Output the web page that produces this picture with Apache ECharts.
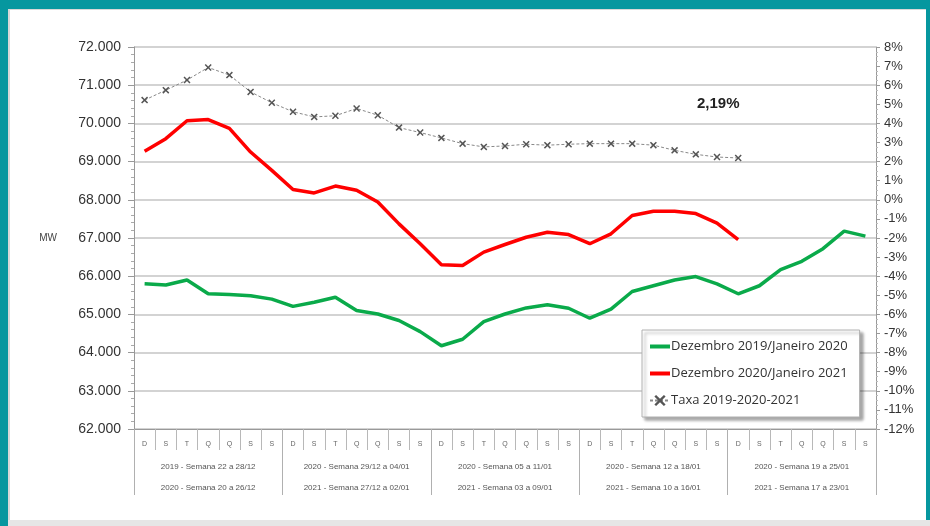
<!DOCTYPE html>
<html>
<head>
<meta charset="utf-8">
<script src="https://cdn.jsdelivr.net/npm/echarts@6/dist/echarts.min.js"></script>
<style>
  html, body { margin: 0; padding: 0; width: 930px; height: 526px; overflow: hidden; background: #06979f; }
  #panel { position: absolute; left: 8px; top: 9px; width: 916px; height: 510px; background: #ffffff; border-left: 2px solid #d8d8d8; border-top: 1px solid #d8d8d8; }
  #bottom { position: absolute; left: 8px; top: 520px; width: 922px; height: 6px; background: #e6e6e6; }
  #chart { position: absolute; left: 0; top: 0; width: 930px; height: 526px; }
</style>
</head>
<body>
<div id="panel"></div>
<div id="bottom"></div>
<div id="chart"></div>
<script>
// ---- data ----
const days = ['D','S','T','Q','Q','S','S','D','S','T','Q','Q','S','S','D','S','T','Q','Q','S','S','D','S','T','Q','Q','S','S','D','S','T','Q','Q','S','S'];
const weeksRow1 = ['2019 - Semana 22 a 28/12', '2020 - Semana 29/12 a 04/01', '2020 - Semana 05 a 11/01', '2020 - Semana 12 a 18/01', '2020 - Semana 19 a 25/01'];
const weeksRow2 = ['2020 - Semana 20 a 26/12', '2021 - Semana 27/12 a 02/01', '2021 - Semana 03 a 09/01', '2021 - Semana 10 a 16/01', '2021 - Semana 17 a 23/01'];
const seriesNames = ['Dezembro 2019/Janeiro 2020', 'Dezembro 2020/Janeiro 2021', 'Taxa 2019-2020-2021'];
const green = [65800,65770,65900,65540,65520,65490,65400,65210,65320,65450,65100,65010,64840,64550,64180,64350,64810,65010,65170,65250,65160,64900,65140,65600,65750,65900,65990,65800,65540,65750,66170,66390,66720,67180,67050];
const red = [69270,69600,70070,70100,69870,69250,68770,68270,68180,68360,68250,67940,67370,66850,66300,66280,66630,66830,67020,67150,67090,66850,67110,67590,67700,67700,67640,67390,66960];
const taxa = [5.22,5.74,6.27,6.93,6.53,5.65,5.08,4.61,4.34,4.40,4.78,4.43,3.78,3.52,3.24,2.94,2.77,2.82,2.91,2.86,2.91,2.94,2.94,2.94,2.86,2.59,2.38,2.24,2.19];
const leftTicks = {min: 62000, max: 72000, interval: 1000};
const rightTicks = {min: -12, max: 8, interval: 1};

const weekLabels = weeksRow1.map((w, i) => w + '\n' + weeksRow2[i]);
const xMark = 'path://M0,1.5L1.5,0L5,3.5L8.5,0L10,1.5L6.5,5L10,8.5L8.5,10L5,6.5L1.5,10L0,8.5L3.5,5Z';
const baseFont = '"Liberation Sans", Arial, sans-serif';

const chart = echarts.init(document.getElementById('chart'), null, {renderer: 'canvas'});
chart.setOption({
  backgroundColor: 'transparent',
  animation: false,
  textStyle: {fontFamily: baseFont},
  grid: {left: 134, right: 54, top: 47, bottom: 97, containLabel: false},
  legend: {
    orient: 'vertical',
    left: 642, top: 330,
    width: 200,
    padding: [10, 12, 10, 6],
    itemGap: 14,
    itemWidth: 20,
    itemHeight: 14,
    backgroundColor: '#ffffff',
    borderColor: '#b0b0b0',
    borderWidth: 1,
    shadowColor: 'rgba(0,0,0,0.35)',
    shadowBlur: 3,
    shadowOffsetX: 3,
    shadowOffsetY: 3,
    textStyle: {fontSize: 13, color: '#333', padding: [0, 0, 0, -4], fontFamily: '"Open Sans", "Liberation Sans", sans-serif'},
    data: [
      {name: seriesNames[0], itemStyle: {opacity: 0}, lineStyle: {width: 4}},
      {name: seriesNames[1], itemStyle: {opacity: 0}, lineStyle: {width: 4}},
      {name: seriesNames[2]}
    ]
  },
  xAxis: [
    {
      type: 'category', data: days, position: 'bottom', boundaryGap: true,
      axisLine: {show: true, onZero: false, lineStyle: {color: '#999', width: 1}},
      axisTick: {show: true, interval: 0, length: 21, lineStyle: {color: '#b8b8b8'}},
      axisLabel: {interval: 0, fontSize: 7, color: '#666', margin: 12}
    },
    {
      type: 'category', data: weekLabels, position: 'bottom', boundaryGap: true,
      axisLine: {show: false, onZero: false},
      axisTick: {show: true, interval: 0, length: 66, lineStyle: {color: '#b0b0b0'}},
      axisLabel: {interval: 0, fontSize: 8, color: '#555', margin: 27, lineHeight: 21}
    }
  ],
  yAxis: [
    {
      type: 'value', position: 'left', min: leftTicks.min, max: leftTicks.max, interval: leftTicks.interval,
      name: 'MW', nameLocation: 'middle', nameGap: 77, nameRotate: 0,
      nameTextStyle: {fontSize: 10, color: '#444'},
      axisLine: {show: true, lineStyle: {color: '#999'}},
      axisTick: {show: true, length: 6, lineStyle: {color: '#999'}},
      minorTick: {show: true, splitNumber: 5, length: 3, lineStyle: {color: '#aaa'}},
      splitLine: {show: true, lineStyle: {color: '#c4c4c4', width: 1.6}},
      axisLabel: {fontSize: 14, color: '#333', margin: 13,
        formatter: v => String(v).replace(/\B(?=(\d{3})+(?!\d))/g, '.')}
    },
    {
      type: 'value', position: 'right', min: rightTicks.min, max: rightTicks.max, interval: rightTicks.interval,
      axisLine: {show: true, lineStyle: {color: '#999'}},
      axisTick: {show: true, length: 4, lineStyle: {color: '#999'}},
      minorTick: {show: true, splitNumber: 4, length: 2, lineStyle: {color: '#bbb'}},
      splitLine: {show: false},
      axisLabel: {fontSize: 13, color: '#333', margin: 8, formatter: v => v + '%'}
    }
  ],
  series: [
    {
      name: seriesNames[0], type: 'line', data: green, xAxisIndex: 0, yAxisIndex: 0,
      symbol: 'none', color: '#0aaa4a', lineStyle: {width: 3.5, color: '#0aaa4a'}, z: 3
    },
    {
      name: seriesNames[1], type: 'line', data: red, xAxisIndex: 0, yAxisIndex: 0,
      symbol: 'none', color: '#ff0000', lineStyle: {width: 3.5, color: '#ff0000'}, z: 3
    },
    {
      name: seriesNames[2], type: 'line', data: taxa.map((v, i) => i === taxa.length - 1 ? {
          value: v,
          label: {show: true, position: 'top', offset: [-20, -38], formatter: p => p.value.toFixed(2).replace('.', ',') + '%',
            fontSize: 15, fontWeight: 'bold', color: '#222'}
        } : v),
      xAxisIndex: 0, yAxisIndex: 1,
      symbol: xMark, symbolSize: 7, showAllSymbol: true,
      color: '#555', itemStyle: {color: '#555'},
      lineStyle: {width: 1, color: '#888', type: [3, 2]}, z: 4
    }
  ]
});
</script>
</body>
</html>
